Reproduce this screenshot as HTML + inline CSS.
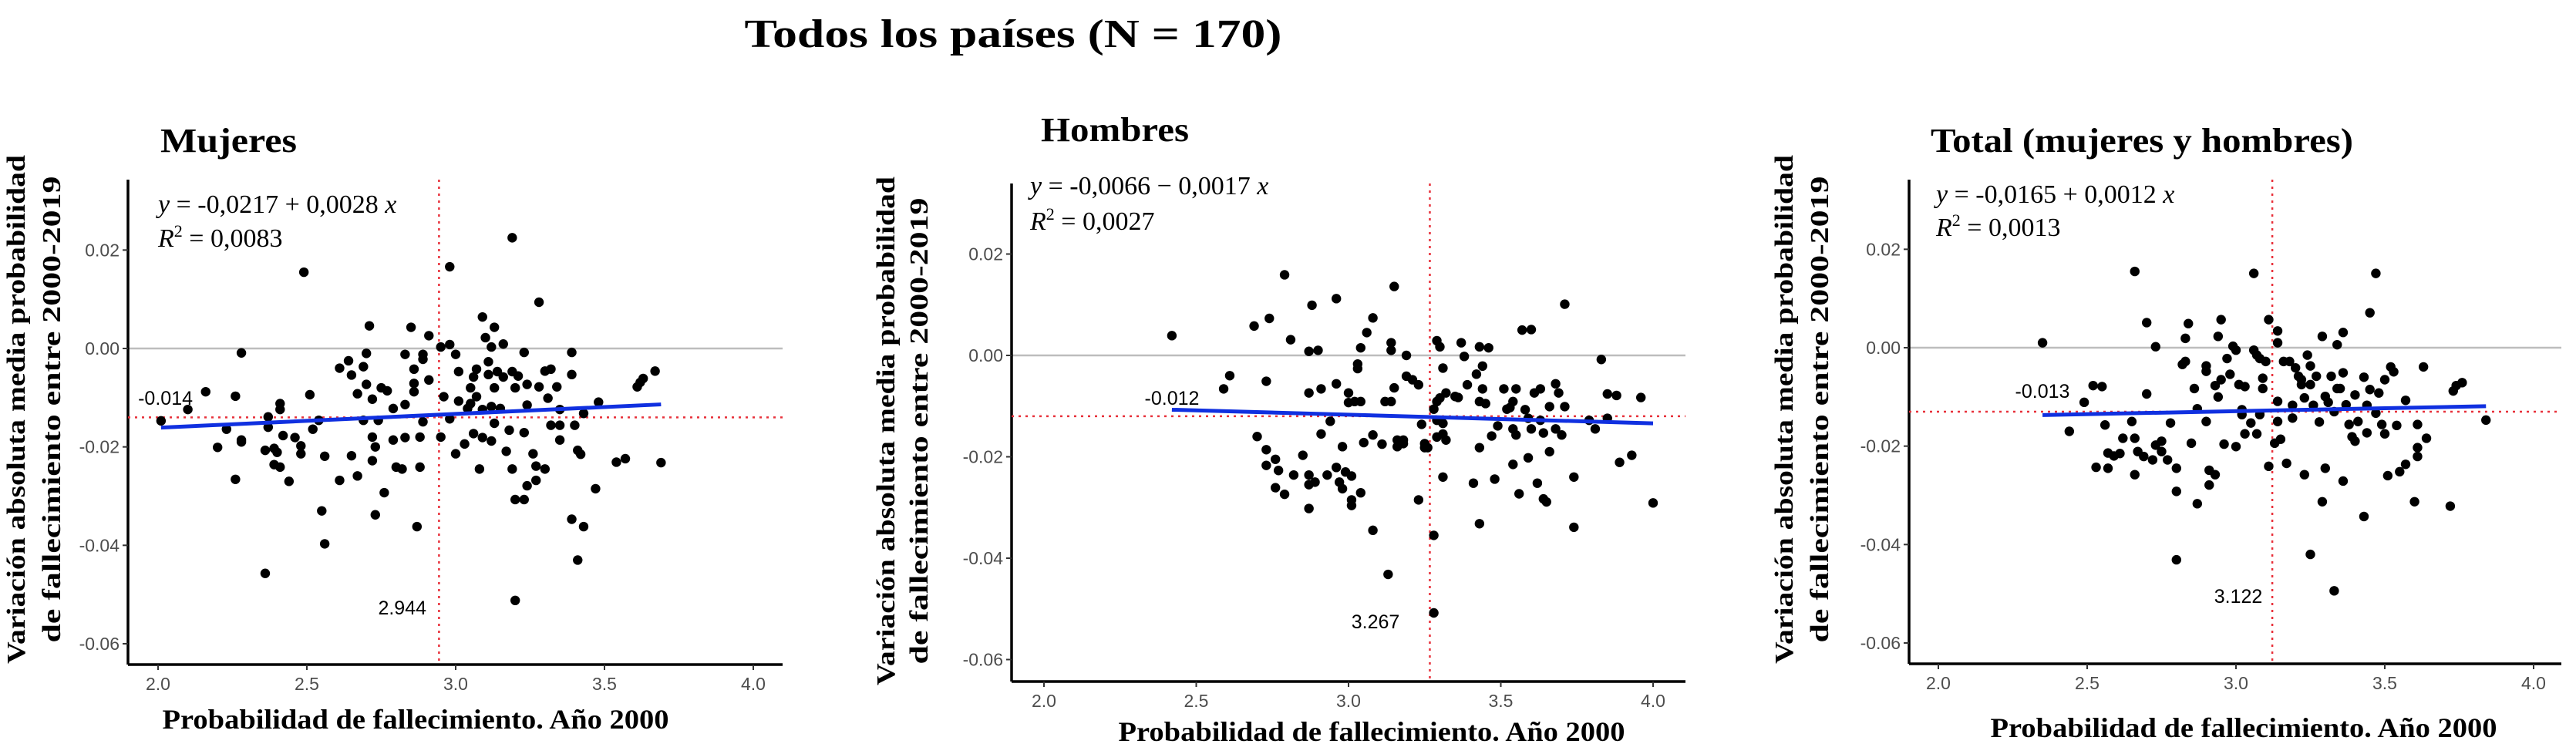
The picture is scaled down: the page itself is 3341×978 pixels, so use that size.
<!DOCTYPE html>
<html><head><meta charset="utf-8"><style>
html,body{margin:0;padding:0;background:#fff;}
svg{display:block;}
.serif{font-family:"Liberation Serif",serif;}
.sans{font-family:"Liberation Sans",sans-serif;}
</style></head><body>
<svg id="chart" width="3341" height="978" viewBox="0 0 3341 978" xmlns="http://www.w3.org/2000/svg">
<text x="1314" y="61" text-anchor="middle" class="serif" font-weight="bold" font-size="52" textLength="697" lengthAdjust="spacingAndGlyphs" fill="#000">Todos los países (N = 170)</text>
</svg>
<script>
const xTicks = [2.0, 2.5, 3.0, 3.5, 4.0];
const xTickLabels = ["2.0", "2.5", "3.0", "3.5", "4.0"];
const yTicks = [0.02, 0.00, -0.02, -0.04, -0.06];
const yTickLabels = ["0.02", "0.00", "-0.02", "-0.04", "-0.06"];

const mujeresX = [2.01,2.10,2.16,2.20,2.23,2.26,2.26,2.28,2.28,2.28,2.36,2.36,2.37,2.37,2.39,2.39,2.40,2.41,2.41,2.41,2.42,2.44,2.46,2.48,2.48,2.49,2.51,2.52,2.54,2.55,2.56,2.56,2.61,2.61,2.64,2.65,2.65,2.67,2.67,2.69,2.69,2.70,2.70,2.71,2.72,2.72,2.72,2.73,2.73,2.74,2.75,2.76,2.77,2.79,2.79,2.80,2.82,2.83,2.83,2.83,2.85,2.86,2.86,2.86,2.87,2.88,2.88,2.89,2.89,2.89,2.91,2.91,2.95,2.95,2.96,2.98,2.98,2.98,3.00,3.00,3.01,3.01,3.03,3.04,3.05,3.05,3.06,3.06,3.07,3.07,3.08,3.09,3.09,3.09,3.10,3.11,3.11,3.12,3.12,3.12,3.13,3.13,3.13,3.14,3.15,3.16,3.16,3.17,3.18,3.19,3.19,3.19,3.20,3.20,3.20,3.21,3.23,3.23,3.23,3.24,3.24,3.24,3.26,3.27,3.27,3.28,3.28,3.30,3.30,3.31,3.32,3.32,3.34,3.35,3.35,3.35,3.39,3.39,3.39,3.40,3.41,3.41,3.42,3.43,3.43,3.48,3.47,3.54,3.57,3.61,3.62,3.63,3.67,3.69];
const mujeresY = [-0.0147,-0.0124,-0.0088,-0.0201,-0.0164,-0.0266,-0.0097,-0.0009,-0.0186,-0.019,-0.0207,-0.0457,-0.0139,-0.016,-0.0203,-0.0236,-0.0211,-0.0241,-0.0112,-0.0124,-0.0177,-0.027,-0.0181,-0.0198,-0.0214,0.0155,-0.0094,-0.0164,-0.0146,-0.033,-0.0219,-0.0397,-0.0268,-0.004,-0.0025,-0.0054,-0.0218,-0.0092,-0.0259,-0.0146,-0.0037,-0.0073,-0.001,0.0046,-0.0103,-0.0228,-0.018,-0.0338,-0.02,-0.0146,-0.008,-0.0293,-0.0086,-0.0122,-0.0186,-0.0241,-0.0245,-0.0181,-0.0114,-0.0012,0.0043,-0.0088,-0.0071,-0.0042,-0.0362,-0.0241,-0.018,-0.0149,-0.0012,-0.0022,-0.0064,0.0026,0.0003,-0.018,-0.0098,0.0008,-0.0143,0.0166,-0.0012,-0.0214,-0.0047,-0.0107,-0.0194,-0.0122,-0.0112,-0.008,-0.0173,-0.0058,-0.0098,-0.0042,-0.0245,-0.0181,0.0064,-0.0124,0.0022,-0.0027,-0.0053,0.0003,-0.0188,-0.0118,0.0043,-0.008,-0.0152,-0.0047,-0.0122,0.0009,-0.0058,-0.0209,-0.0166,-0.0245,-0.0047,0.0225,-0.008,-0.0307,-0.0512,-0.0056,-0.0171,-0.0307,-0.0008,-0.0115,-0.0073,-0.0279,-0.0214,-0.0239,-0.0268,0.0094,-0.0078,-0.0245,-0.0046,-0.0101,-0.0042,-0.0156,-0.0078,-0.0156,-0.0124,-0.0186,-0.0008,-0.0053,-0.0347,-0.0156,-0.0207,-0.043,-0.0215,-0.0362,-0.0132,-0.0109,-0.0285,-0.0231,-0.0224,-0.0078,-0.0069,-0.0061,-0.0046,-0.0232];

const hombresX = [2.42,2.59,2.61,2.69,2.73,2.74,2.70,2.73,2.73,2.76,2.77,2.76,2.79,2.79,2.81,2.82,2.85,2.87,2.87,2.87,2.87,2.87,2.88,2.90,2.89,2.91,2.91,2.93,2.94,2.96,2.96,2.96,2.97,2.98,2.98,2.99,3.00,3.00,3.01,3.01,3.01,3.02,3.03,3.03,3.04,3.04,3.04,3.05,3.06,3.08,3.08,3.08,3.11,3.12,3.13,3.14,3.14,3.14,3.15,3.15,3.16,3.16,3.18,3.18,3.19,3.19,3.21,3.23,3.23,3.24,3.25,3.25,3.26,3.28,3.28,3.28,3.29,3.29,3.29,3.29,3.30,3.30,3.31,3.31,3.31,3.31,3.32,3.32,3.35,3.36,3.37,3.38,3.39,3.41,3.42,3.43,3.43,3.43,3.43,3.44,3.44,3.45,3.46,3.47,3.48,3.49,3.51,3.52,3.53,3.54,3.54,3.54,3.55,3.55,3.56,3.57,3.58,3.59,3.59,3.60,3.60,3.61,3.62,3.63,3.63,3.64,3.64,3.65,3.66,3.66,3.68,3.68,3.69,3.70,3.71,3.71,3.74,3.74,3.79,3.81,3.83,3.85,3.85,3.88,3.89,3.93,3.96,4.00];
const hombresY = [0.0039,-0.0066,-0.004,0.0058,-0.0051,0.0073,-0.016,-0.0186,-0.0217,-0.0205,-0.0227,-0.0261,-0.0274,0.0159,0.0031,-0.0236,-0.0197,0.0008,-0.0074,-0.0236,-0.0255,-0.0302,0.0099,0.001,-0.025,-0.0066,-0.0155,-0.0236,-0.013,0.0112,-0.0221,-0.0056,-0.025,-0.018,-0.0263,-0.023,-0.0074,-0.0093,-0.0285,-0.0238,-0.0296,-0.0091,-0.0017,-0.0026,-0.0091,-0.0271,0.0015,-0.0172,0.0045,-0.0345,0.0074,-0.0157,-0.0175,-0.0091,-0.0432,0.0025,0.001,-0.0091,0.0136,-0.0064,-0.0167,-0.018,-0.0167,-0.0174,0,-0.0041,-0.0048,-0.0058,-0.0285,-0.0136,-0.0174,-0.0182,-0.0182,-0.0508,-0.0355,-0.0106,-0.0091,-0.0128,-0.0161,0.0029,0.0017,-0.0084,-0.0134,-0.024,-0.0025,-0.0155,-0.0167,-0.0074,-0.0081,-0.0083,0.0025,-0.0002,-0.0058,-0.0252,-0.0037,0.0017,-0.0091,-0.0182,-0.0332,-0.0066,-0.0021,-0.0095,0.0015,-0.0159,-0.0244,-0.0139,-0.0066,-0.0106,-0.0103,-0.0215,-0.0091,-0.0145,-0.0066,-0.0157,-0.0273,0.005,-0.0107,-0.0124,-0.0202,0.0051,-0.0145,-0.0074,-0.0252,-0.0128,-0.0066,-0.0153,-0.0283,-0.0289,-0.019,-0.0101,-0.0056,-0.0145,-0.0074,-0.0157,0.0101,-0.0101,-0.024,-0.0339,-0.0128,-0.0145,-0.0008,-0.0124,-0.0076,-0.0079,-0.0211,-0.0197,-0.0083,-0.0291];

const totalX = [2.35,2.44,2.49,2.52,2.53,2.55,2.56,2.57,2.57,2.59,2.61,2.62,2.65,2.66,2.66,2.66,2.67,2.69,2.70,2.70,2.72,2.73,2.73,2.75,2.75,2.77,2.78,2.80,2.80,2.80,2.82,2.83,2.83,2.84,2.85,2.86,2.87,2.87,2.90,2.90,2.90,2.91,2.91,2.93,2.93,2.94,2.94,2.95,2.95,2.96,2.97,2.98,2.99,3.00,3.00,3.01,3.02,3.02,3.03,3.03,3.05,3.06,3.06,3.07,3.07,3.08,3.08,3.09,3.09,3.10,3.11,3.11,3.13,3.14,3.14,3.14,3.14,3.15,3.16,3.17,3.18,3.19,3.19,3.20,3.21,3.22,3.22,3.23,3.23,3.24,3.25,3.25,3.25,3.26,3.27,3.28,3.29,3.29,3.30,3.30,3.31,3.32,3.33,3.33,3.34,3.34,3.35,3.36,3.36,3.36,3.37,3.38,3.39,3.40,3.40,3.41,3.43,3.43,3.44,3.44,3.45,3.45,3.47,3.47,3.48,3.49,3.50,3.50,3.51,3.52,3.53,3.54,3.55,3.57,3.57,3.60,3.61,3.61,3.61,3.63,3.64,3.72,3.73,3.74,3.76,3.84];
const totalY = [0.001,-0.017,-0.0111,-0.0077,-0.0243,-0.0079,-0.0157,-0.0214,-0.0245,-0.022,-0.0215,-0.0184,-0.015,0.0155,-0.0184,-0.0258,-0.0211,-0.0221,0.0051,-0.0094,-0.0228,0.0002,-0.0198,-0.019,-0.0211,-0.0228,-0.0153,-0.0245,-0.0292,-0.0431,-0.0034,0.0019,-0.0028,0.0049,-0.0194,-0.0083,-0.0124,-0.0317,-0.015,-0.0037,-0.0048,-0.0279,-0.0249,-0.0077,-0.0258,0.0023,-0.01,-0.0065,0.0057,-0.0196,-0.0022,-0.0054,0.0003,-0.0005,-0.0201,-0.0075,-0.0126,-0.0136,-0.0175,-0.0079,-0.0153,0.0151,-0.0005,-0.0175,-0.0015,-0.0022,-0.0136,-0.0083,-0.0062,-0.0028,0.0057,-0.0241,-0.0194,0.001,0.0034,-0.015,-0.0109,-0.0186,-0.0028,-0.0235,-0.0028,-0.0117,-0.0143,-0.0041,-0.0058,-0.0075,-0.0065,-0.0258,-0.0102,-0.0015,-0.0037,-0.042,-0.0075,-0.0117,-0.0058,-0.0151,0.0023,-0.0313,-0.0099,-0.0245,-0.0111,-0.0058,-0.013,-0.0494,0.0006,-0.0083,-0.0083,-0.0051,-0.0271,0.0031,-0.0116,-0.0156,-0.0181,-0.0096,-0.019,-0.015,-0.0343,-0.006,-0.0117,-0.0173,0.0071,-0.0085,0.0151,-0.0133,-0.0092,-0.0156,-0.0175,-0.0065,-0.026,-0.0039,-0.0049,-0.0158,-0.0252,-0.0107,-0.0237,-0.0313,-0.0203,-0.0221,-0.0156,-0.0039,-0.0184,-0.0322,-0.0088,-0.0077,-0.0071,-0.0147];

const intercepts = [-0.0217, -0.0066, -0.0165];
const slopes = [0.0028, -0.0017, 0.0012];
const meanX = [2.944, 3.267, 3.122];
const meanY = [-0.014, -0.012, -0.013];
const meanXLabels = ["2.944", "3.267", "3.122"];
const meanYLabels = ["-0.014", "-0.012", "-0.013"];
const eqLabels = ["-0,0217 + 0,0028", "-0,0066 \u2212 0,0017", "-0,0165 + 0,0012"];
const r2Labels = ["0,0083", "0,0027", "0,0013"];
const panelTitles = ["Mujeres", "Hombres", "Total (mujeres y hombres)"];

const NS = "http://www.w3.org/2000/svg";
const svg = document.getElementById("chart");
function mk(tag, attrs, parent, txt) {
  const e = document.createElementNS(NS, tag);
  for (const k in attrs) e.setAttribute(k, attrs[k]);
  if (txt !== undefined) e.textContent = txt;
  (parent || svg).appendChild(e);
  return e;
}

const panels = [
  {xs: mujeresX, ys: mujeresY, x0: 205, kx: 386, y0: 452, ky: 6383, axL: 166, axT: 233, axB: 862, axR: 1015,
   title: [208, 197, 177], eq: [205, 276, 320], ylab: [21, 67, 531], xlab: [539, 945],
   mxLab: [553, 797, "end"], myLab: [250, 525, "end"]},
  {xs: hombresX, ys: hombresY, x0: 1354, kx: 395, y0: 461, ky: 6575, axL: 1312, axT: 238, axB: 884, axR: 2186,
   title: [1350, 183, 192], eq: [1336, 252, 298], ylab: [1149, 1192, 559], xlab: [1779, 961],
   mxLab: [1784, 815, "middle"], myLab: [1520, 525, "middle"]},
  {xs: totalX, ys: totalY, x0: 2514, kx: 386, y0: 451, ky: 6383, axL: 2476, axT: 233, axB: 861, axR: 3322,
   title: [2504, 197, 548], eq: [2511, 263, 306], ylab: [2314, 2360, 531], xlab: [2910, 956],
   mxLab: [2903, 782, "middle"], myLab: [2649, 516, "middle"]}
];

panels.forEach((p, i) => {
  const g = mk("g", {});
  
  
  const sx = v => p.x0 + (v - 2) * p.kx;
  const sy = v => p.y0 - v * p.ky;

  const t = mk("text", {x: p.title[0], y: p.title[1], "font-size": 44, "font-weight": "bold", class: "serif", fill: "#000", textLength: p.title[2], lengthAdjust: "spacingAndGlyphs"}, g, panelTitles[i]);
  
  

  const zl = mk("line", {x1: p.axL, x2: p.axR, y1: sy(0), y2: sy(0), stroke: "#bdbdbd", "stroke-width": 2.5}, g);
  
  

  const ya = mk("line", {x1: p.axL, x2: p.axL, y1: p.axT, y2: p.axB, stroke: "#000", "stroke-width": 3.5}, g);
  
  
  const xa = mk("line", {x1: p.axL, x2: p.axR, y1: p.axB, y2: p.axB, stroke: "#000", "stroke-width": 3.5}, g);
  
  

  yTicks.forEach((v, k) => {
    const y = sy(v);
    mk("line", {x1: p.axL - 7, x2: p.axL, y1: y, y2: y, stroke: "#333", "stroke-width": 2}, g);
    const lt = mk("text", {x: p.axL - 11, y: y + 8, "text-anchor": "end", "font-size": 23, class: "sans", fill: "#4d4d4d"}, g, yTickLabels[k]);
    
    
  });
  xTicks.forEach((v, k) => {
    const x = sx(v);
    mk("line", {x1: x, x2: x, y1: p.axB, y2: p.axB + 7, stroke: "#333", "stroke-width": 2}, g);
    const lt = mk("text", {x: x, y: p.axB + 33, "text-anchor": "middle", "font-size": 23, class: "sans", fill: "#4d4d4d"}, g, xTickLabels[k]);
    
    
  });

  const vl = mk("line", {x1: sx(meanX[i]), x2: sx(meanX[i]), y1: p.axT, y2: p.axB, stroke: "#e8303a", "stroke-width": 2.5, "stroke-dasharray": "3 6"}, g);
  
  
  const hl = mk("line", {x1: p.axL, x2: p.axR, y1: sy(meanY[i]), y2: sy(meanY[i]), stroke: "#e8303a", "stroke-width": 2.5, "stroke-dasharray": "3 6"}, g);
  
  

  p.xs.forEach((xv, k) => {
    const c = mk("circle", {cx: sx(xv), cy: sy(p.ys[k]), r: 6.2, fill: "#000"}, g);
    
    
  });

  const xmin = Math.min(...p.xs), xmax = Math.max(...p.xs);
  const rl = mk("line", {x1: sx(xmin), y1: sy(intercepts[i] + slopes[i] * xmin), x2: sx(xmax), y2: sy(intercepts[i] + slopes[i] * xmax), stroke: "#1030e0", "stroke-width": 5}, g);
  
  

  const ml1 = mk("text", {x: p.mxLab[0], y: p.mxLab[1], "text-anchor": p.mxLab[2], "font-size": 25, class: "sans", fill: "#000"}, g, meanXLabels[i]);
  
  
  const ml2 = mk("text", {x: p.myLab[0], y: p.myLab[1], "text-anchor": p.myLab[2], "font-size": 25, class: "sans", fill: "#000"}, g, meanYLabels[i]);
  
  

  const eq = mk("text", {x: p.eq[0], y: p.eq[1], "font-size": 34, class: "serif", fill: "#000"}, g);
  
  
  mk("tspan", {"font-style": "italic"}, eq, "y");
  mk("tspan", {}, eq, " = " + eqLabels[i] + " ");
  mk("tspan", {"font-style": "italic"}, eq, "x");
  const r2 = mk("text", {x: p.eq[0], y: p.eq[2], "font-size": 34, class: "serif", fill: "#000"}, g);
  
  
  mk("tspan", {"font-style": "italic"}, r2, "R");
  mk("tspan", {"font-size": 22, dy: -13}, r2, "2");
  mk("tspan", {dy: 13}, r2, " = " + r2Labels[i]);

  const yl = mk("text", {transform: "translate(" + p.ylab[0] + "," + p.ylab[2] + ") rotate(-90)", "text-anchor": "middle", "font-size": 34, "font-weight": "bold", class: "serif", fill: "#000"}, g);
  
  
  mk("tspan", {x: 0, y: 11, textLength: 660, lengthAdjust: "spacingAndGlyphs"}, yl, "Variación absoluta media probabilidad");
  mk("tspan", {x: 0, y: 11 + (p.ylab[1] - p.ylab[0]), textLength: 605, lengthAdjust: "spacingAndGlyphs"}, yl, "de fallecimiento entre 2000-2019");
  const xl = mk("text", {x: p.xlab[0], y: p.xlab[1], "text-anchor": "middle", "font-size": 36, "font-weight": "bold", class: "serif", fill: "#000", textLength: 657, lengthAdjust: "spacingAndGlyphs"}, g, "Probabilidad de fallecimiento. Año 2000");
  
  
});
</script>
</body></html>
